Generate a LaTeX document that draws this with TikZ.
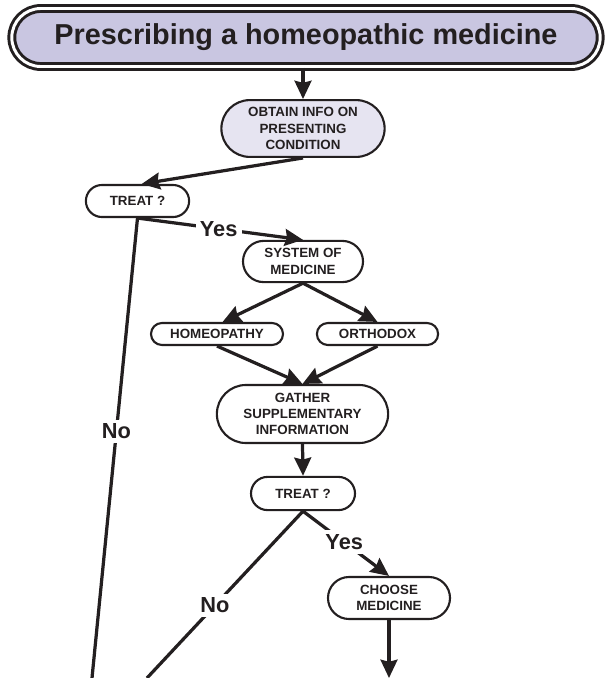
\documentclass[tikz,border=0pt]{standalone}
\usepackage{fontspec}
\setmainfont{Liberation Sans}
\usetikzlibrary{arrows.meta,shapes.misc}

\definecolor{titlefill}{RGB}{201,198,225}
\definecolor{infofill}{RGB}{230,228,241}
\definecolor{inkblack}{RGB}{35,31,32}

\tikzset{
  flowbox/.style={rounded rectangle, draw=inkblack, line width=1.5pt, fill=white,
    align=center, inner xsep=0pt, inner ysep=1pt, text=inkblack,
    font=\fontsize{9.5}{11.6}\selectfont\bfseries},
  flowarrow/.style={draw=inkblack, line width=2.3pt,
    -{Stealth[length=13pt,width=12pt,inset=1.5pt]}},
  flowline/.style={draw=inkblack, line width=2.3pt},
  answer/.style={fill=white, inner sep=3pt, text=inkblack,
    font=\fontsize{15.5}{18}\selectfont\bfseries}
}

\begin{document}
\begin{tikzpicture}[x=0.025cm, y=-0.025cm]
\clip (0,0) rectangle (610,678);

% title bar
\node[rounded rectangle, draw=inkblack, double, double distance=2.1pt, line width=2.1pt,
  fill=titlefill, minimum width=14.94cm, minimum height=1.45cm, text=inkblack,
  font=\fontsize{20.5}{24}\selectfont\bfseries] (title) at (306,37.5)
  {Prescribing a homeopathic medicine};

% boxes
\node[flowbox, fill=infofill, minimum width=4.08cm, minimum height=1.42cm] (info) at (303,128.5)
  {OBTAIN INFO ON\\PRESENTING\\CONDITION};
\node[flowbox, minimum width=2.58cm, minimum height=0.8cm] (treatA) at (137.5,201) {TREAT ?};
\node[flowbox, minimum width=3cm, minimum height=1.03cm] (system) at (303,261.5) {SYSTEM OF\\MEDICINE};
\node[flowbox, minimum width=3.3cm, minimum height=0.55cm] (homeo) at (217,334) {HOMEOPATHY};
\node[flowbox, minimum width=3.03cm, minimum height=0.55cm] (ortho) at (377.5,334) {ORTHODOX};
\node[flowbox, minimum width=4.28cm, minimum height=1.45cm] (gather) at (302.5,414)
  {GATHER\\SUPPLEMENTARY\\INFORMATION};
\node[flowbox, minimum width=2.6cm, minimum height=0.83cm] (treatB) at (303,493.5) {TREAT ?};
\node[flowbox, minimum width=3.05cm, minimum height=1.05cm] (choose) at (389,598) {CHOOSE\\MEDICINE};

% loose ends at the bottom edge
\coordinate (noEndA) at (92,678);
\coordinate (noEndB) at (147,678);
\coordinate (chooseEnd) at (389,678);

% connectors
\draw[flowarrow] (info.north |- title.south) -- (info.north);
\draw[flowarrow] (info.south) -- ([xshift=3pt]treatA.north);
\draw[flowarrow] (treatA.south) -- node[answer, pos=0.49] (yesA) {Yes} (system.north);
\draw[flowline] (treatA.south) -- node[answer, pos=0.464] (noA) {No} (noEndA);
\draw[flowarrow] (system.south) -- ([xshift=4pt]homeo.north);
\draw[flowarrow] (system.south) -- (ortho.north);
\draw[flowarrow] (homeo.south) -- (gather.north);
\draw[flowarrow] (ortho.south) -- (gather.north);
\draw[flowarrow] (gather.south) -- (treatB.north);
\draw[flowarrow] (treatB.south) -- node[answer, pos=0.48] (yesB) {Yes} (choose.north);
\draw[flowline] (treatB.south) -- node[answer, pos=0.565] (noB) {No} (noEndB);
\draw[flowarrow] (choose.south) -- (chooseEnd);
\end{tikzpicture}
\end{document}
